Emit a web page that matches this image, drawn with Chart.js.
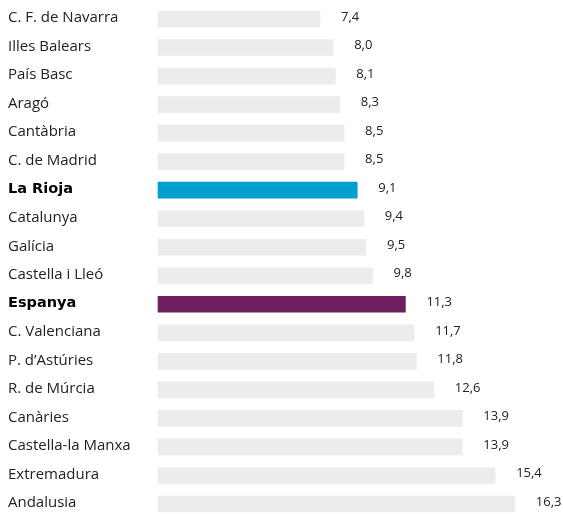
<!DOCTYPE html>
<html lang="ca">
<head>
    <meta charset="UTF-8">
    <title>Taxa per comunitat</title>
    <script src="https://cdn.jsdelivr.net/npm/chart.js"></script>
    <style>
        html, body { margin: 0; padding: 0; background: #fff; }
        #wrap { width: 563px; height: 514px; position: relative; }
    </style>
</head>
<body>
    <div id="wrap"><canvas id="myChart"></canvas></div>

    <script>
        // Dades llegides del gràfic
        const regions = [
            'C. F. de Navarra', 'Illes Balears', 'País Basc', 'Aragó', 'Cantàbria',
            'C. de Madrid', 'La Rioja', 'Catalunya', 'Galícia', 'Castella i Lleó',
            'Espanya', 'C. Valenciana', 'P. d\u2019Astúries', 'R. de Múrcia', 'Canàries',
            'Castella-la Manxa', 'Extremadura', 'Andalusia'
        ];
        const values = [7.4, 8.0, 8.1, 8.3, 8.5, 8.5, 9.1, 9.4, 9.5, 9.8, 11.3, 11.7, 11.8, 12.6, 13.9, 13.9, 15.4, 16.3];
        const highlighted = { 'La Rioja': '#00a0cc', 'Espanya': '#6d1f60' };

        const GREY = '#ebecec';
        const barColors = regions.map(r => highlighted[r] || GREY);

        // etiquetes de categoria i valors
        const labelPlugin = {
            id: 'labels',
            afterDatasetsDraw(chart) {
                const ctx = chart.ctx;
                const meta = chart.getDatasetMeta(0);
                ctx.save();
                ctx.textBaseline = 'middle';
                meta.data.forEach((bar, i) => {
                    const bold = !!highlighted[regions[i]];
                    ctx.textAlign = 'left';
                    if (bold) {
                        ctx.fillStyle = '#000';
                        ctx.font = 'bold 14.5px "DejaVu Sans"';
                    } else {
                        ctx.fillStyle = '#222';
                        ctx.font = '400 15px "Open Sans"';
                    }
                    ctx.fillText(regions[i], 8, bar.y - 1);
                    ctx.font = '400 13px "Open Sans"';
                    ctx.fillStyle = '#222';
                    ctx.fillText(values[i].toFixed(1).replace('.', ','), bar.x + 21, bar.y - 2);
                });
                ctx.restore();
            }
        };

        const myChart = new Chart(document.getElementById('myChart'), {
            type: 'bar',
            data: {
                labels: regions,
                datasets: [{
                    data: values,
                    backgroundColor: barColors,
                    barThickness: 16,
                    borderWidth: 0,
                    clip: false
                }]
            },
            options: {
                indexAxis: 'y',
                responsive: true,
                maintainAspectRatio: false,
                animation: false,
                layout: { padding: { left: 158, right: 0, top: 19, bottom: 10 } },
                plugins: {
                    legend: { display: false },
                    tooltip: { enabled: false }
                },
                scales: {
                    x: { display: false, min: 0, max: 18.5 },
                    y: { display: false, offset: false }
                }
            },
            plugins: [labelPlugin]
        });
    </script>
</body>
</html>
